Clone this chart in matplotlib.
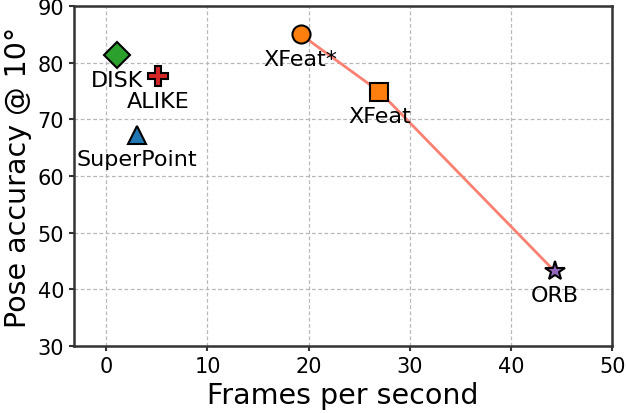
import numpy as np
import matplotlib.pyplot as plt

methods = ['XFeat*', 'XFeat', 'ORB', 'DISK', 'ALIKE', 'SuperPoint']
fps = [19.2, 27.0, 44.3, 1.1, 5.1, 3.0]
acc = [85.0, 74.9, 43.2, 81.3, 77.6, 67.3]
markers = ['o', 's', '*', 'D', 'P', '^']
colors = ['tab:orange', 'tab:orange', 'tab:purple', 'tab:green', 'tab:red', 'tab:blue']
sizes = [13, 13, 15, 13, 14, 13]

fig = plt.figure(figsize=(6.26, 4.14), dpi=100)
ax = fig.add_subplot(111)
fig.subplots_adjust(left=0.118, right=0.978, top=0.983, bottom=0.162)

# pareto line through the XFeat variants and ORB
ax.plot(fps[:3], acc[:3], color='salmon', lw=2, zorder=2)

for i, m in enumerate(methods):
    ax.plot(fps[i], acc[i], marker=markers[i], color=colors[i], markersize=sizes[i],
            markeredgecolor='black', markeredgewidth=1.5, ls='none', zorder=3)
    ax.annotate(m, (fps[i], acc[i]), xytext=(0, -17.5), textcoords='offset points',
                ha='center', va='center', fontsize=16)

ax.set_xlim(-3.2, 50)
ax.set_ylim(30, 90)
ax.set_xticks(np.arange(0, 51, 10))
ax.set_yticks(np.arange(30, 91, 10))
ax.tick_params(labelsize=15, width=1.5, color='#333333')
ax.grid(True, ls=(0, (3, 2)), color='#b8b8b8', lw=0.9)
for s in ax.spines.values():
    s.set_linewidth(1.8)
    s.set_color('#333333')

ax.set_xlabel('Frames per second', fontsize=20.5)
ax.set_ylabel('Pose accuracy @ 10°', fontsize=20.5)

plt.savefig('out.png', dpi=100)
